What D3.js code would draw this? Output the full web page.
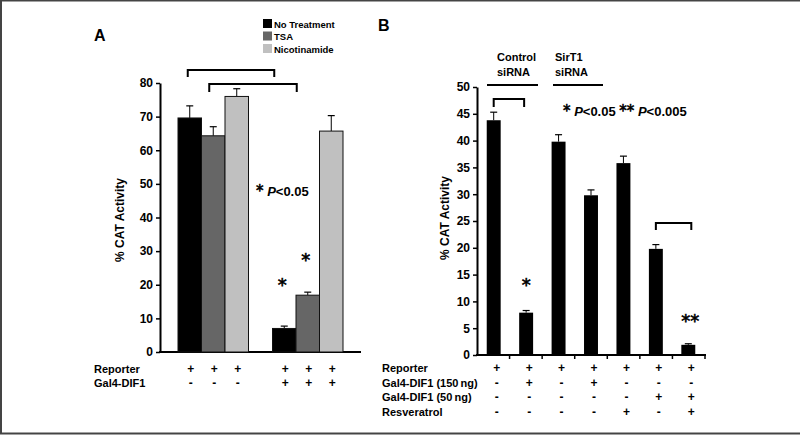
<!DOCTYPE html>
<html><head><meta charset="utf-8">
<script src="https://cdn.jsdelivr.net/npm/d3@7"></script>
<style>
html,body{margin:0;padding:0;background:#fff;}
svg{display:block;font-family:"Liberation Sans",Arial,sans-serif;font-weight:bold;}
svg text{fill:#000;}
.st{stroke:#000;stroke-width:0.6;}
</style></head><body>
<svg id="c" width="800" height="435"></svg>
<script>
// Panel A data
const aGroups = ["Gal4-DIF1 -", "Gal4-DIF1 +"];
const aSeries = ["No Treatment", "TSA", "Nicotinamide"];
const aValues = [[69.6, 64.3, 76.0], [7.0, 16.9, 65.7]];
const aErrors = [[3.6, 2.7, 2.3], [0.7, 0.9, 4.6]];
const aTicks = [0,10,20,30,40,50,60,70,80];
const aRows = [["Reporter", ["+","+","+","+","+","+"]], ["Gal4-DIF1", ["-","-","-","+","+","+"]]];
const aColors = ["#000000", "#666666", "#c0c0c0"];

// Panel B data
const bCats = ["1","2","3","4","5","6","7"];
const bValues = [43.8, 7.9, 39.8, 29.8, 35.8, 19.8, 1.9];
const bErrors = [1.5, 0.4, 1.3, 1.0, 1.3, 0.8, 0.2];
const bTicks = [0,5,10,15,20,25,30,35,40,45,50];
const bRows = [
  ["Reporter", ["+","+","+","+","+","+","+"]],
  ["Gal4-DIF1 (150\u2009ng)", ["-","+","-","+","-","-","-"]],
  ["Gal4-DIF1 (50\u2009ng)", ["-","-","-","-","-","+","+"]],
  ["Resveratrol", ["-","-","-","-","+","-","+"]]
];

const svg = d3.select("#c");
svg.append("rect").attr("x",1).attr("y",0.5).attr("width",820).attr("height",433)
  .attr("fill","none").attr("stroke","#444").attr("stroke-width",2);

function styleAxis(sel){
  sel.select(".domain").attr("stroke","#000").attr("stroke-width",2);
  sel.selectAll(".tick line").attr("stroke","#000").attr("stroke-width",1.5);
  sel.selectAll("text").attr("font-size",12).attr("font-weight","bold").attr("fill","#000")
    .attr("font-family","Liberation Sans, Arial, sans-serif");
}
function bracket(g,x1,x2,y,h){
  g.append("path").attr("d",`M${x1},${y+h}V${y}H${x2}V${y+h}`).attr("fill","none").attr("stroke","#000").attr("stroke-width",2);
}
function star(g,x,y,txt,size){
  g.append("text").attr("class","st").attr("x",x).attr("y",y).attr("text-anchor","middle")
    .attr("font-size",size).attr("font-weight","normal").attr("fill","#000")
    .attr("font-family","DejaVu Sans, sans-serif").text(txt);
}

// ---------- Panel A ----------
const yA = d3.scaleLinear().domain([0,80]).range([352,83]);
const xA0 = d3.scaleBand().domain(aGroups).range([178,343]).paddingInner(0.254).paddingOuter(0);
const xA1 = d3.scaleBand().domain(aSeries).range([0, xA0.bandwidth()]);
const gA = svg.append("g");
const ya = gA.append("g").attr("transform","translate(160,0)")
  .call(d3.axisLeft(yA).tickValues(aTicks).tickSize(4).tickSizeOuter(0));
styleAxis(ya);
gA.append("line").attr("x1",159).attr("x2",361).attr("y1",352).attr("y2",352).attr("stroke","#000").attr("stroke-width",2);

aGroups.forEach((g,gi)=>{
  aSeries.forEach((s,si)=>{
    const x = xA0(g)+xA1(s), w = xA1.bandwidth(), v = aValues[gi][si], e = aErrors[gi][si];
    const cx = x + w/2;
    gA.append("line").attr("x1",cx).attr("x2",cx).attr("y1",yA(v)).attr("y2",yA(v+e)).attr("stroke","#000").attr("stroke-width",1);
    gA.append("line").attr("x1",cx-3.5).attr("x2",cx+3.5).attr("y1",yA(v+e)).attr("y2",yA(v+e)).attr("stroke","#000").attr("stroke-width",1.2);
    gA.append("rect").attr("x",x).attr("y",yA(v)).attr("width",w).attr("height",yA(0)-yA(v))
      .attr("fill",aColors[si]).attr("stroke","#111").attr("stroke-width",1);
  });
});
const bandCenter = (gi,si)=>xA0(aGroups[gi])+xA1(aSeries[si])+xA1.bandwidth()/2;
bracket(gA, bandCenter(0,0)-2, bandCenter(1,0)-10, 70, 7);
bracket(gA, bandCenter(0,1)-4, bandCenter(1,1)-11, 84, 8);
star(gA, bandCenter(1,0)-2, yA(aValues[1][0]+aErrors[1][0])-35, "*", 18);
star(gA, bandCenter(1,1)-2, yA(aValues[1][1]+aErrors[1][1])-26, "*", 18);
const pA = gA.append("text").attr("x",256).attr("y",196).attr("font-size",13);
pA.append("tspan").attr("class","st").attr("font-weight","normal").attr("font-family","DejaVu Sans, sans-serif").attr("font-size",15).text("*");
pA.append("tspan").text(" ");
pA.append("tspan").attr("font-style","italic").text("P");
pA.append("tspan").text("<0.05");
aSeries.forEach((s,i)=>{
  gA.append("rect").attr("x",263).attr("y",19+i*12.5).attr("width",9).attr("height",9).attr("fill",aColors[i]);
  gA.append("text").attr("x",274).attr("y",27.5+i*12.5).attr("font-size",9.5).text(s);
});
gA.append("text").attr("transform","translate(124,220) rotate(-90)").attr("text-anchor","middle").attr("font-size",12).text("% CAT Activity");
gA.append("text").attr("x",94).attr("y",41).attr("font-size",16).text("A");
aRows.forEach((r,ri)=>{
  const y = 373 + ri*14;
  gA.append("text").attr("x",94).attr("y",y).attr("font-size",11).text(r[0]);
  r[1].forEach((sym,k)=>{
    const gi = Math.floor(k/3), si = k%3;
    gA.append("text").attr("x",bandCenter(gi,si)+1).attr("y",y).attr("text-anchor","middle").attr("font-size",12).text(sym);
  });
});

// ---------- Panel B ----------
const yB = d3.scaleLinear().domain([0,50]).range([355,87]);
const xB = d3.scaleBand().domain(bCats).range([477,705]).paddingInner(0.57).paddingOuter(0.3);
const xBb = d3.scaleBand().domain(bCats).range([477,705]);
const gB = svg.append("g");
const yb = gB.append("g").attr("transform","translate(477,0)")
  .call(d3.axisLeft(yB).tickValues(bTicks).tickSize(4).tickSizeOuter(0));
styleAxis(yb);
gB.append("line").attr("x1",476).attr("x2",706).attr("y1",355).attr("y2",355).attr("stroke","#000").attr("stroke-width",2);
bCats.forEach(c=>{
  const xe = xBb(c)+xBb.bandwidth();
  gB.append("line").attr("x1",xe).attr("x2",xe).attr("y1",355).attr("y2",359).attr("stroke","#000").attr("stroke-width",1.5);
});
bCats.forEach((c,i)=>{
  const x = xB(c), w = xB.bandwidth(), v = bValues[i], e = bErrors[i], cx = x+w/2;
  gB.append("line").attr("x1",cx).attr("x2",cx).attr("y1",yB(v)).attr("y2",yB(v+e)).attr("stroke","#000").attr("stroke-width",1);
  gB.append("line").attr("x1",cx-3.5).attr("x2",cx+3.5).attr("y1",yB(v+e)).attr("y2",yB(v+e)).attr("stroke","#000").attr("stroke-width",1.2);
  gB.append("rect").attr("x",x).attr("y",yB(v)).attr("width",w).attr("height",yB(0)-yB(v)).attr("fill","#000");
});
const cB = i=>xB(bCats[i])+xB.bandwidth()/2;
bracket(gB, cB(0), cB(1)-2, 99, 8);
bracket(gB, cB(5), cB(6)+3, 223, 7);
gB.append("line").attr("x1",487).attr("x2",538).attr("y1",85).attr("y2",85).attr("stroke","#000").attr("stroke-width",2);
gB.append("line").attr("x1",553).attr("x2",603).attr("y1",85).attr("y2",85).attr("stroke","#000").attr("stroke-width",2);
gB.append("text").attr("x",497).attr("y",61).attr("font-size",11).text("Control");
gB.append("text").attr("x",497).attr("y",76).attr("font-size",11).text("siRNA");
gB.append("text").attr("x",555).attr("y",61).attr("font-size",11).text("SirT1");
gB.append("text").attr("x",555).attr("y",76).attr("font-size",11).text("siRNA");
const pB = gB.append("text").attr("x",563).attr("y",116).attr("font-size",13);
pB.append("tspan").attr("class","st").attr("font-weight","normal").attr("font-family","DejaVu Sans, sans-serif").attr("font-size",15).text("*");
pB.append("tspan").text(" ");
pB.append("tspan").attr("font-style","italic").text("P");
pB.append("tspan").text("<0.05  ");
pB.append("tspan").attr("class","st").attr("font-weight","normal").attr("font-family","DejaVu Sans, sans-serif").attr("font-size",15).text("**");
pB.append("tspan").text(" ");
pB.append("tspan").attr("font-style","italic").text("P");
pB.append("tspan").text("<0.005");
star(gB, cB(1), 291, "*", 18);
star(gB, cB(6)+2, 327, "**", 18);
gB.append("text").attr("transform","translate(449,218) rotate(-90)").attr("text-anchor","middle").attr("font-size",12).text("% CAT Activity");
gB.append("text").attr("x",378).attr("y",31).attr("font-size",16).text("B");
bRows.forEach((r,ri)=>{
  const y = 372 + ri*14.5;
  gB.append("text").attr("x",382).attr("y",y).attr("font-size",11).text(r[0]);
  r[1].forEach((sym,k)=>{
    gB.append("text").attr("x",cB(k)+3).attr("y",y).attr("text-anchor","middle").attr("font-size",12).text(sym);
  });
});
</script>
</body></html>
